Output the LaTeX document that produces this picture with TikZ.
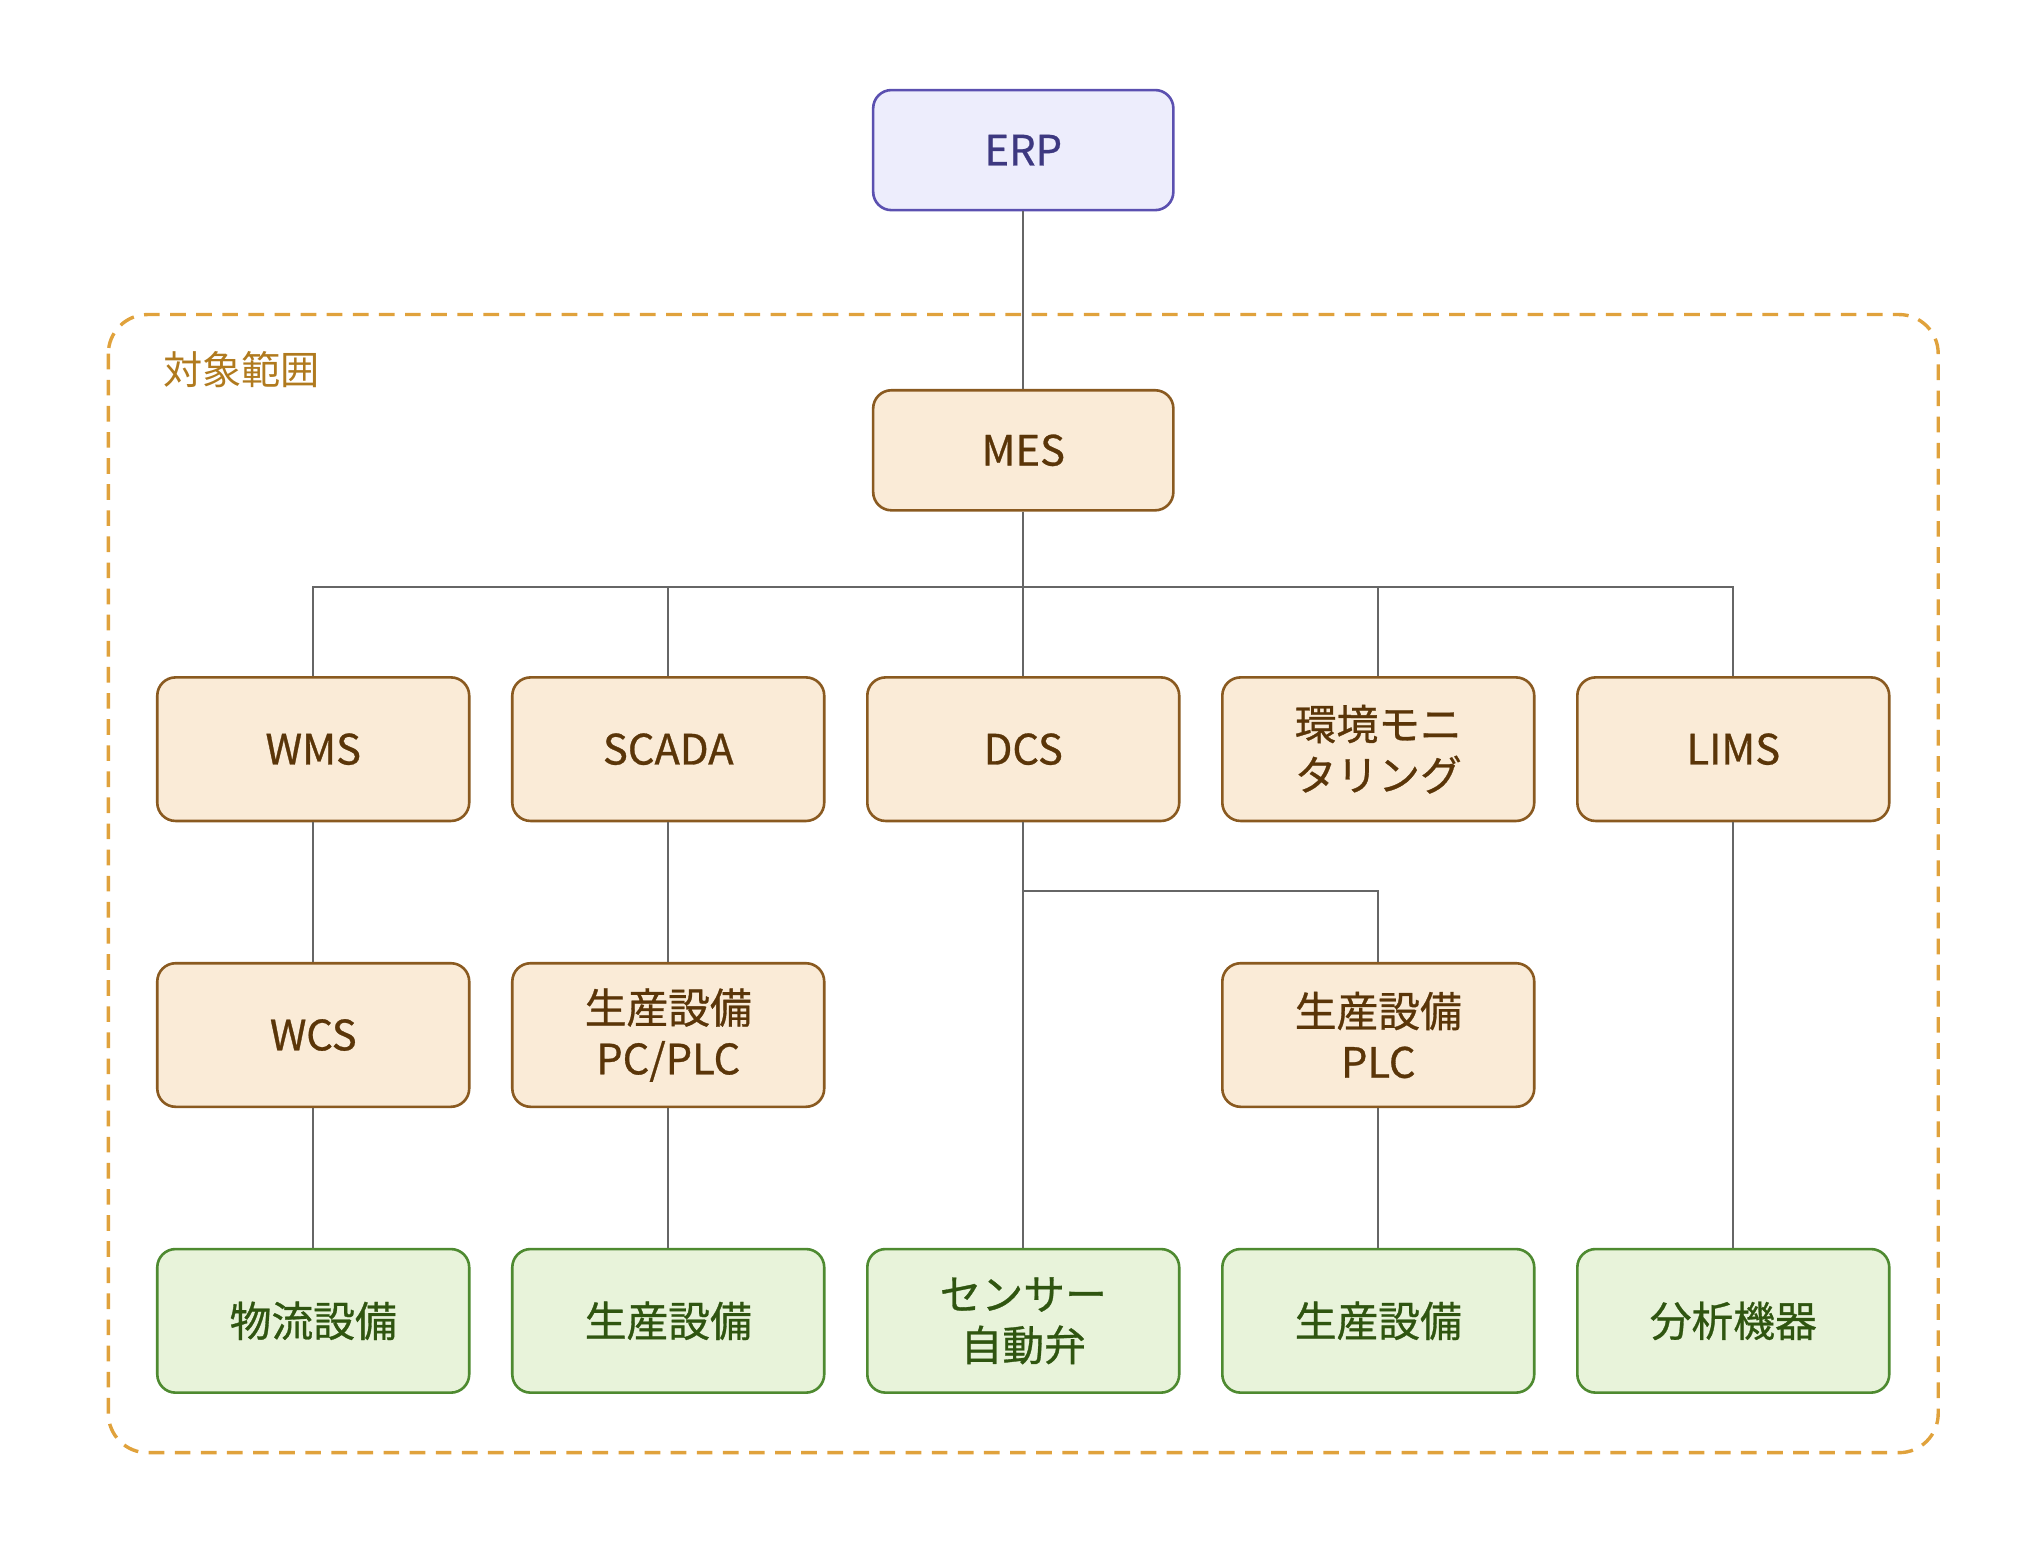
\documentclass[tikz,border=0pt]{standalone}
\usepackage{fontspec}
\setmainfont{Noto Sans CJK JP}[BoldFont=Noto Sans CJK JP, BoldFeatures={FakeBold=0.7}]
\definecolor{bfill}{HTML}{FAEBD7}
\definecolor{bdraw}{HTML}{8A5A20}
\definecolor{btext}{HTML}{5A3508}
\definecolor{gfill}{HTML}{E8F3DA}
\definecolor{gdraw}{HTML}{4E8A30}
\definecolor{gtext}{HTML}{2F5510}
\definecolor{efill}{HTML}{EDEDFC}
\definecolor{edraw}{HTML}{5B50B0}
\definecolor{etext}{HTML}{3D3880}
\definecolor{dash}{HTML}{E0A23C}
\definecolor{lbl}{HTML}{B07A1E}
\begin{document}
\begin{tikzpicture}[x={(0.5pt,0)},y={(0,-0.5pt)},
 box/.style={draw=bdraw,fill=bfill,line width=1pt,rounded corners=7pt,minimum width=119.5pt,minimum height=55pt,align=center,font=\bfseries\fontsize{16}{19.5}\selectfont,text=btext,inner sep=0pt},
 leaf/.style={box,draw=gdraw,fill=gfill,text=gtext},
 top/.style={box,draw=edraw,fill=efill,text=etext,minimum width=115pt,minimum height=46pt},
 ln/.style={draw=black!60,line width=0.8pt}]
\useasboundingbox (0,0) rectangle (1563,1193);
\draw[draw=dash,dashed,dash pattern=on 6pt off 4pt,line width=1.3pt,rounded corners=15pt] (83,241) rectangle (1485,1113);
\node[text=lbl,font=\fontsize{15}{18}\selectfont] (lbl) at (185,283) {対象範囲};
\node[top] (erp) at (784,115) {ERP};
\node[box,minimum width=115pt,minimum height=46pt] (mes) at (784,345) {MES};
\node[box] (wms) at (240,574) {WMS};
\node[box] (scada) at (512,574) {SCADA};
\node[box] (dcs) at (784,574) {DCS};
\node[box] (env) at (1056,574) {環境モニ\\タリング};
\node[box] (lims) at (1328,574) {LIMS};
\node[box] (wcs) at (240,793) {WCS};
\node[box] (pcplc) at (512,793) {生産設備\\PC/PLC};
\node[box] (plc) at (1056,793) {生産設備\\PLC};
\node[leaf] (l1) at (240,1012) {物流設備};
\node[leaf] (l2) at (512,1012) {生産設備};
\node[leaf] (l3) at (784,1012) {センサー\\自動弁};
\node[leaf] (l4) at (1056,1012) {生産設備};
\node[leaf] (l5) at (1328,1012) {分析機器};
\coordinate (bus) at (784,450);
\coordinate (br) at (784,683);
\draw[ln] (erp) -- (mes);
\draw[ln] (mes) -- (bus);
\foreach \n in {wms,scada,dcs,env,lims} \draw[ln] (bus) -| (\n);
\draw[ln] (wms) -- (wcs); \draw[ln] (wcs) -- (l1);
\draw[ln] (scada) -- (pcplc); \draw[ln] (pcplc) -- (l2);
\draw[ln] (dcs) -- (l3);
\draw[ln] (br) -| (plc); \draw[ln] (plc) -- (l4);
\draw[ln] (lims) -- (l5);
\end{tikzpicture}
\end{document}
